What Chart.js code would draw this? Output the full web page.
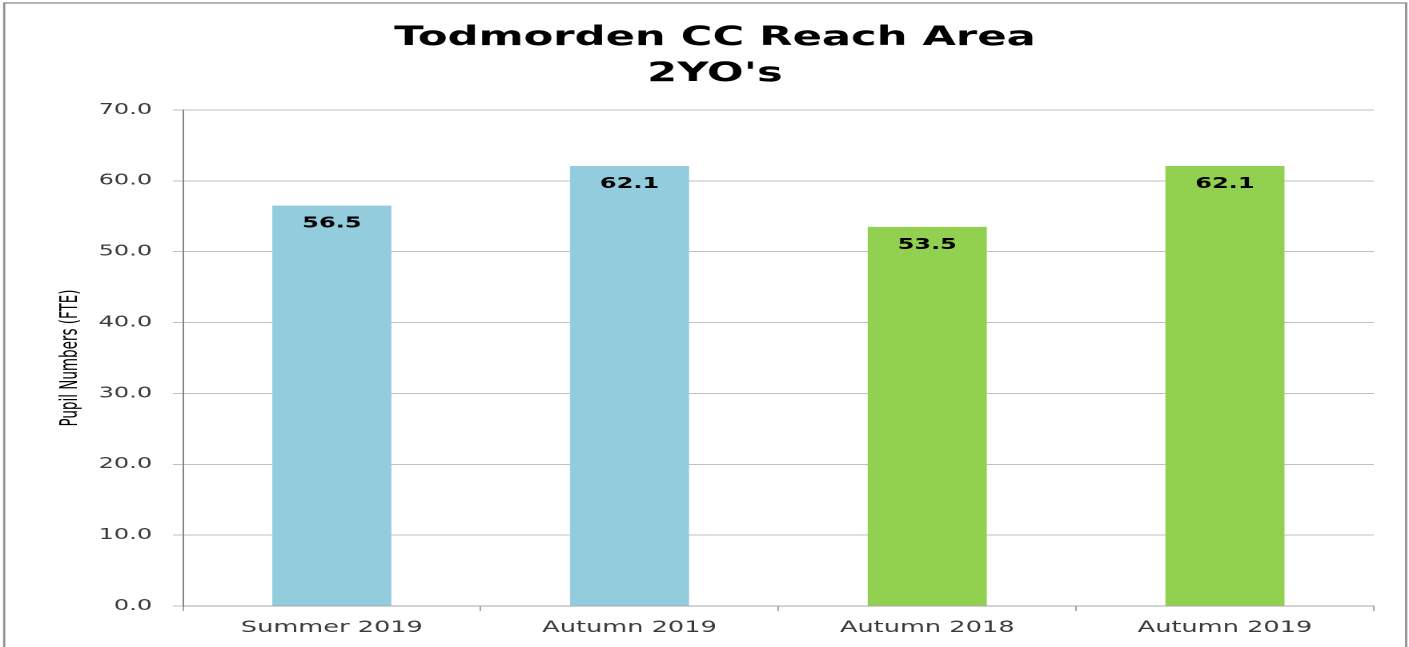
<!DOCTYPE html>
<html>
<head>
<meta charset="utf-8">
<title>Todmorden CC Reach Area 2YO's</title>
<script src="https://cdn.jsdelivr.net/npm/chart.js@4/dist/chart.umd.min.js"></script>
<style>
    html, body { margin: 0; padding: 0; background: #ffffff; overflow: hidden; }
    /* the chart is laid out narrow and widened to fill the window */
    #wrap { width: 880px; height: 647px; transform: scaleX(1.60114); transform-origin: 0 0; }
</style>
</head>
<body>
<div id="wrap"><canvas id="reachChart" width="880" height="647"></canvas></div>
<script>
// データ
const categories = ['Summer 2019', 'Autumn 2019', 'Autumn 2018', 'Autumn 2019'];
const pupilNumbers = [56.5, 62.1, 53.5, 62.1];
const yTicks = [0, 10, 20, 30, 40, 50, 60, 70];

// 色（前半2本は青、後半2本は緑）
const BLUE = '#93CDDD';
const GREEN = '#92D050';
const barColours = [BLUE, BLUE, GREEN, GREEN];

const FONT = '"DejaVu Sans", Verdana, sans-serif';

// 外枠
const framePlugin = {
    id: 'frame',
    beforeDraw(chart) {
        const ctx = chart.ctx;
        ctx.save();
        ctx.strokeStyle = '#8c8c8c';
        ctx.lineWidth = 1.3;
        ctx.strokeRect(2.6, 3, chart.width - 4.4, chart.height + 20);
        ctx.restore();
    }
};

// 棒の上端内側に値を表示
const valueLabels = {
    id: 'valueLabels',
    afterDatasetsDraw(chart) {
        const ctx = chart.ctx;
        const meta = chart.getDatasetMeta(0);
        ctx.save();
        ctx.font = 'bold 15px ' + FONT;
        ctx.fillStyle = '#000000';
        ctx.textAlign = 'center';
        ctx.textBaseline = 'middle';
        meta.data.forEach((bar, i) => {
            ctx.fillText(pupilNumbers[i].toFixed(1), bar.x, bar.y + 18);
        });
        ctx.restore();
    }
};

new Chart(document.getElementById('reachChart'), {
    type: 'bar',
    data: {
        labels: categories,
        datasets: [{
            data: pupilNumbers,
            backgroundColor: barColours,
            borderWidth: 0,
            barPercentage: 0.4,
            categoryPercentage: 1.0
        }]
    },
    options: {
        responsive: false,
        devicePixelRatio: 2,
        animation: false,
        layout: { padding: { top: 6, left: 35, right: 22, bottom: 0 } },
        plugins: {
            legend: { display: false },
            tooltip: { enabled: false },
            title: {
                display: true,
                text: ['Todmorden CC Reach Area', "2YO's"],
                color: '#000000',
                font: { family: FONT, size: 27, weight: 'bold', lineHeight: 1.333 },
                padding: { top: 14, bottom: 18 }
            }
        },
        scales: {
            x: {
                afterFit(scale) { scale.height = 41; },
                grid: {
                    display: true,
                    offset: true,
                    drawOnChartArea: false,
                    drawTicks: true,
                    tickLength: 5,
                    color: '#a6a6a6'
                },
                border: { color: '#a6a6a6' },
                ticks: {
                    color: '#3a3a3a',
                    padding: 7,
                    maxRotation: 0,
                    font: { family: FONT, size: 16 }
                }
            },
            y: {
                min: 0,
                max: 70,
                afterFit(scale) { scale.width = 79.3; },
                afterBuildTicks(scale) { scale.ticks = yTicks.map(v => ({ value: v })); },
                grid: { color: '#c0c0c0', tickLength: 6.3 },
                border: { color: '#868686' },
                ticks: {
                    color: '#3a3a3a',
                    padding: 13,
                    font: { family: FONT, size: 15 },
                    callback: v => Number(v).toFixed(1)
                },
                title: {
                    display: true,
                    text: 'Pupil Numbers (FTE)',
                    color: '#000000',
                    padding: { top: 0, bottom: 0 },
                    font: { family: '"DejaVu Sans Condensed", "DejaVu Sans", sans-serif', size: 15 }
                }
            }
        }
    },
    plugins: [framePlugin, valueLabels]
});
</script>
</body>
</html>
